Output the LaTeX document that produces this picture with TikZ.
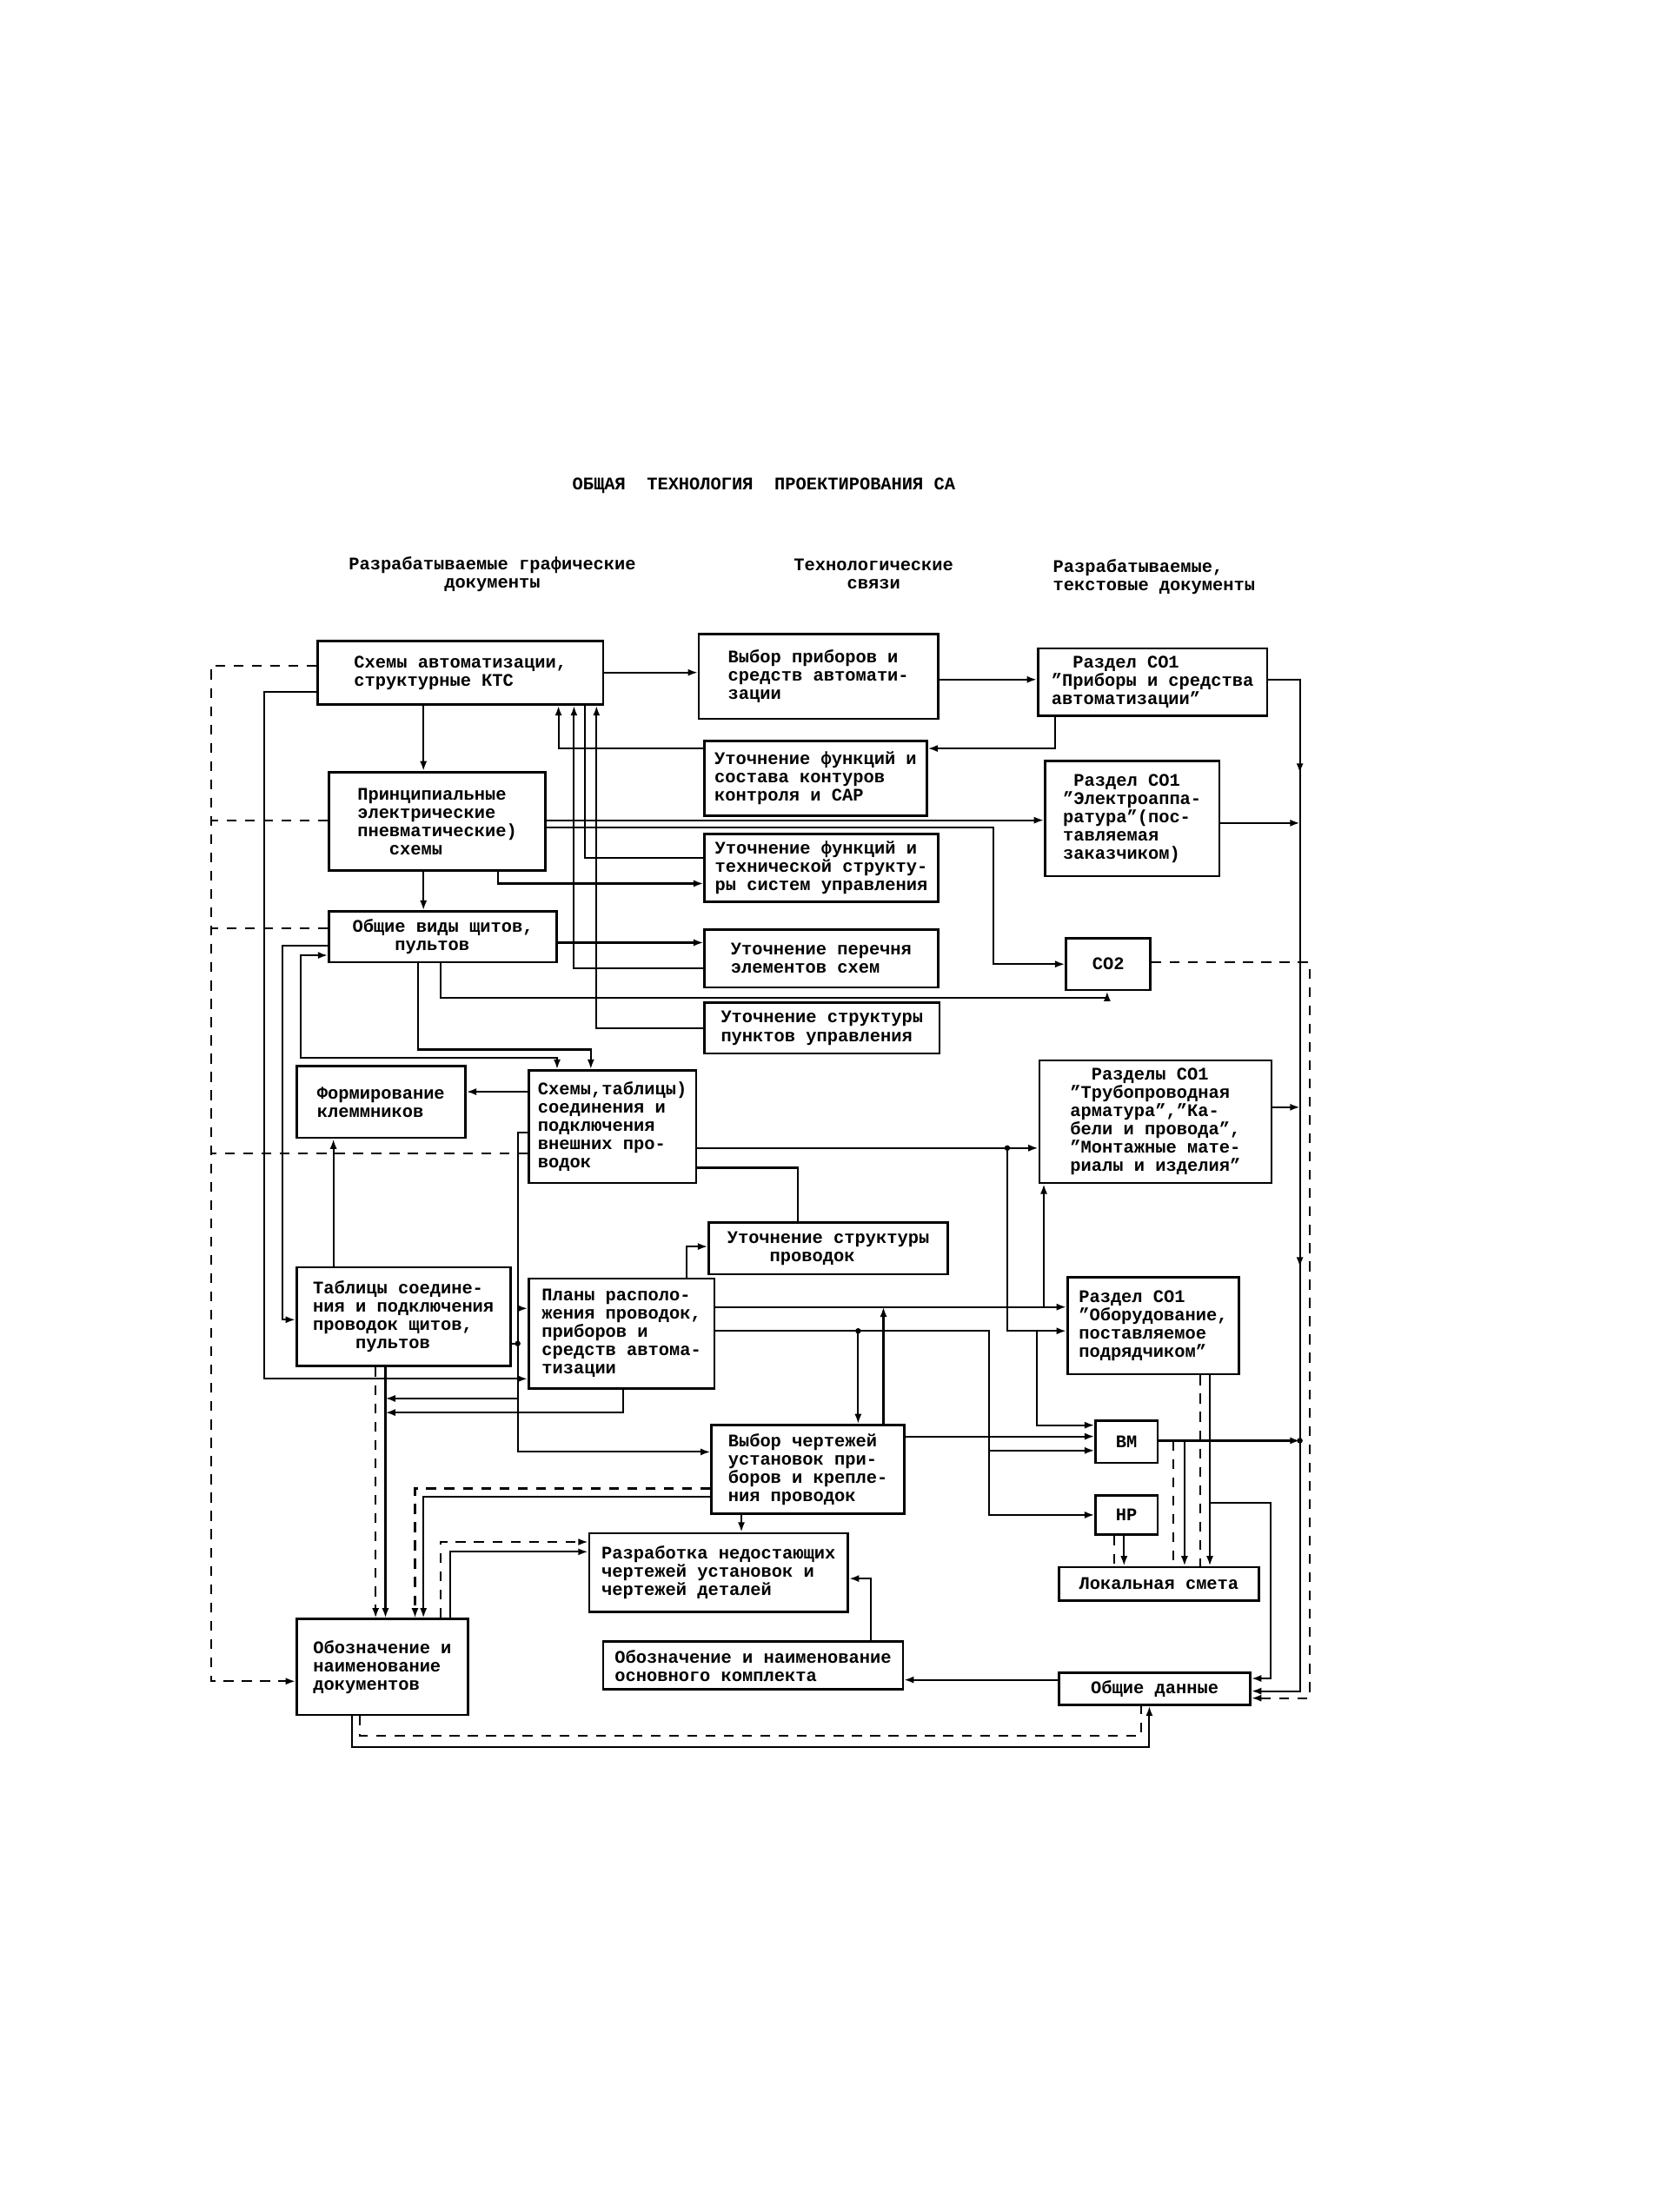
\documentclass[tikz,border=0pt]{standalone}
\usepackage{fontspec}
\setmainfont{Liberation Mono}
\usetikzlibrary{arrows.meta,decorations.markings}
\newcommand\fs{\fontsize{12.6}{13}\selectfont\bfseries}
\begin{document}
\begin{tikzpicture}[x=1pt,y=-1pt,
 box/.style={draw, line width=1.6pt, align=left, inner sep=3pt, font=\fs, anchor=north west},
 ln/.style={line width=1.3pt},
 arr/.style={ln, -{Latex[length=7pt,width=5pt]}},
 dsh/.style={ln, dash pattern=on 7pt off 6pt},
 darr/.style={dsh, -{Latex[length=7pt,width=5pt]}},
 jdot/.style={circle, fill, inner sep=0pt, minimum size=4pt},
 hd/.style={font=\fs, align=center}]
\fill[white] (0,0) rectangle (1194,1568);
\useasboundingbox (0,0) rectangle (1194,1568);

% title and headers
\node[hd] (title) at (543,345) {ОБЩАЯ\ \ ТЕХНОЛОГИЯ\ \ ПРОЕКТИРОВАНИЯ СА};
\node[hd] (h1) at (350,408) {Разрабатываемые графические\\документы};
\node[hd] (h2) at (621,408) {Технологические\\связи};
\node[hd, align=left, anchor=west] (h3) at (745,410) {Разрабатываемые,\\текстовые документы};

% boxes
\node[box, minimum width=203pt, minimum height=45pt] (A) at (225,455) {Схемы автоматизации,\\структурные КТС};
\node[box, minimum width=170pt, minimum height=60pt] (B) at (496,450) {Выбор приборов и\\средств автомати-\\зации};
\node[box, minimum width=163pt, minimum height=48pt] (C) at (737,460) {\ \ Раздел СО1\\"Приборы и средства\\автоматизации"};
\node[box, minimum width=158pt, minimum height=53pt] (D) at (500,526) {Уточнение функций и\\состава контуров\\контроля и САР};
\node[box, minimum width=154pt, minimum height=70pt] (E) at (233,548) {Принципиальные\\электрические\\пневматические)\\\ \ \ схемы};
\node[box, minimum width=124pt, minimum height=82pt] (F) at (742,540) {\ Раздел СО1\\"Электроаппа-\\ратура"(пос-\\тавляемая\\заказчиком)};
\node[box, minimum width=166pt, minimum height=48pt] (G) at (500,592) {Уточнение функций и\\технической структу-\\ры систем управления};
\node[box, minimum width=162pt, minimum height=36pt] (H) at (233,647) {Общие виды щитов,\\\ \ \ \ пультов};
\node[box, minimum width=166pt, minimum height=41pt] (I) at (500,660) {Уточнение перечня\\элементов схем};
\node[box, minimum width=60pt, minimum height=37pt] (J) at (757,666) {СО2};
\node[box, minimum width=167pt, minimum height=36pt] (K) at (500,712) {Уточнение структуры\\пунктов управления};
\node[box, minimum width=120pt, minimum height=51pt] (L) at (210,757) {Формирование\\клеммников};
\node[box, minimum width=119pt, minimum height=80pt] (M) at (375,760) {Схемы,таблицы)\\соединения и\\подключения\\внешних про-\\водок};
\node[box, minimum width=165pt, minimum height=87pt] (N) at (738,753) {\ \ Разделы СО1\\"Трубопроводная\\арматура","Ка-\\бели и провода",\\"Монтажные мате-\\риалы и изделия"};
\node[box, minimum width=170pt, minimum height=37pt] (O) at (503,868) {Уточнение структуры\\\ \ \ \ проводок};
\node[box, minimum width=152pt, minimum height=70pt] (P) at (210,900) {Таблицы соедине-\\ния и подключения\\проводок щитов,\\\ \ \ \ пультов};
\node[box, minimum width=132pt, minimum height=78pt] (Q) at (375,908) {Планы располо-\\жения проводок,\\приборов и\\средств автома-\\тизации};
\node[box, minimum width=122pt, minimum height=69pt] (R) at (758,907) {Раздел СО1\\"Оборудование,\\поставляемое\\подрядчиком"};
\node[box, minimum width=137pt, minimum height=63pt] (S) at (505,1012) {Выбор чертежей\\установок при-\\боров и крепле-\\ния проводок};
\node[box, minimum width=44pt, minimum height=30pt, align=center] (T) at (778,1009) {ВМ};
\node[box, minimum width=44pt, minimum height=28pt, align=center] (U) at (778,1062) {НР};
\node[box, minimum width=184pt, minimum height=56pt] (V) at (418,1089) {Разработка недостающих\\чертежей установок и\\чертежей деталей};
\node[box, minimum width=142pt, minimum height=24pt, inner sep=1pt] (W) at (752,1113) {Локальная смета};
\node[box, minimum width=122pt, minimum height=68pt] (X) at (210,1150) {Обозначение и\\наименование\\документов};
\node[box, minimum width=213pt, minimum height=34pt, inner sep=2pt] (Y) at (428,1166) {Обозначение и наименование\\основного комплекта};
\node[box, minimum width=136pt, minimum height=23pt, inner sep=1pt] (Z) at (752,1188) {Общие данные};

% named bend / junction coordinates
\coordinate (busF) at (924,585);
\coordinate (busN) at (924,787);
\coordinate (busT) at (924,1024);
\coordinate (m1) at (368,930);
\coordinate (m2) at (368,955);
\coordinate (m3) at (368,994);
\coordinate (xa) at (274,994);
\coordinate (xb) at (274,1004);
\coordinate (q1) at (742,929);
\coordinate (r1) at (716,816);
\coordinate (r2) at (737,946);
\coordinate (s1) at (610,946);
\coordinate (s2) at (628,929);
\coordinate (t1) at (703,1031);
\coordinate (w1) at (842,1024);
\coordinate (w2) at (834,1024);
\coordinate (rz) at (860,1068);
\coordinate (d1) at (150,583);
\coordinate (d2) at (150,660);
\coordinate (d3) at (150,820);

% ---- top connectors
\draw[arr] (A.east |- 0,478) -- (B.west |- 0,478);
\draw[arr] (B.east |- 0,483) -- (C.west |- 0,483);
\draw[arr] (C.south -| 750,0) |- (D.east |- 0,532);
\draw[arr] (D.west |- 0,532) -| (A.south -| 397,0);
\draw[arr] (A.south -| 301,0) -- (E.north -| 301,0);
\draw[arr] (E.south -| 301,0) -- (H.north -| 301,0);
\draw[arr, postaction={decorate}, decoration={markings,
   mark=at position 89pt with {\arrow{Latex[length=7pt,width=5pt]}},
   mark=at position 440pt with {\arrow{Latex[length=7pt,width=5pt]}}}]
   (C.east |- 0,483) -| (924,1202) -- (Z.east |- 0,1202);
\draw[arr] (F.east |- 0,585) -- (busF);
\draw[arr] (N.east |- 0,787) -- (busN);
\draw[arr] (T.east |- 0,1024) -- (busT);
\node[jdot] at (busT) {};
\draw[arr] (E.east |- 0,583) -- (F.west |- 0,583);
\draw[arr] (E.east |- 0,588) -| (J.west -| 706,0) -- (J.west);
\draw[arr] (E.south -| 354,0) |- (G.west |- 0,628);
\draw[ln] (A.south -| 416,0) |- (G.west |- 0,610);
\draw[arr] (I.west |- 0,688) -| (A.south -| 408,0);
\draw[arr] (K.west |- 0,731) -| (A.south -| 424,0);
\draw[arr] (H.east |- 0,670) -- (I.west |- 0,670);
\draw[arr] (H.south -| 313,0) |- (787,709) -- (J.south -| 787,0);
\draw[arr] (H.south -| 297,0) |- (420,746) -- (M.north -| 420,0);
\draw[ln, {Latex[length=7pt,width=5pt]}-{Latex[length=7pt,width=5pt]}] (M.north -| 396,0) |- (214,752) |- (H.west |- 0,679);
\draw[arr] (H.west |- 0,672) -| (201,938) -- (P.west |- 0,938);
\draw[arr] (A.west |- 0,492) -| (188,980) -- (Q.west |- 0,980);

% ---- middle left
\draw[arr] (M.west |- 0,776) -- (L.east |- 0,776);
\draw[arr] (P.north -| 237,0) -- (L.south -| 237,0);
\draw[arr] (M.west |- 0,805) -| (368,1032) -- (S.west |- 0,1032);
\draw[arr] (m1) -- (Q.west |- 0,930);
\draw[ln] (P.east |- 0,955) -- (m2);
\node[jdot] at (m2) {};
\draw[arr] (m3) -- (xa);
\draw[arr] (Q.south -| 443,0) |- (xb);
\draw[arr] (P.south -| 274,0) -- (X.north -| 274,0);
\draw[darr] (P.south -| 267,0) -- (X.north -| 267,0);
\draw[arr] (S.west |- 0,1064) -| (X.north -| 301,0);
\draw[darr] (S.west |- 0,1058) -| (X.north -| 295,0);
\draw[arr] (X.north -| 320,0) |- (V.west |- 0,1103);
\draw[darr] (X.north -| 313,0) |- (V.west |- 0,1096);
\draw[arr] (S.south -| 527,0) -- (V.north -| 527,0);
\draw[arr] (Y.north -| 619,0) |- (V.east |- 0,1122);
\draw[arr] (Z.west |- 0,1194) -- (Y.east |- 0,1194);
\draw[arr] (X.south -| 250,0) |- (817,1242) -- (Z.south -| 817,0);
\draw[dsh] (X.south -| 256,0) |- (811,1234) -- (Z.south -| 811,0);

% ---- middle right
\draw[arr] (M.east |- 0,816) -- (N.west |- 0,816);
\node[jdot] at (r1) {};
\draw[ln] (M.east |- 0,830) -| (O.north -| 567,0);
\draw[arr] (Q.north -| 488,0) |- (O.west |- 0,886);
\draw[arr] (Q.east |- 0,929) -- (R.west |- 0,929);
\draw[arr] (q1) -- (N.south -| 742,0);
\draw[arr] (r1) |- (R.west |- 0,946);
\draw[arr] (r2) |- (T.west |- 0,1013);
\draw[arr] (Q.east |- 0,946) -| (U.west -| 703,0) -- (U.west);
\draw[arr] (t1) -- (T.west |- 0,1031);
\draw[arr] (s1) -- (S.north -| 610,0);
\node[jdot] at (s1) {};
\draw[arr] (S.north -| 628,0) -- (s2);
\draw[arr] (S.east |- 0,1021) -- (T.west |- 0,1021);
\draw[arr] (w1) -- (W.north -| 842,0);
\draw[dsh] (w2) -- (W.north -| 834,0);
\draw[arr] (R.south -| 860,0) -- (W.north -| 860,0);
\draw[dsh] (R.south -| 853,0) -- (W.north -| 853,0);
\draw[arr] (rz) -| (903,1193) -- (Z.east |- 0,1193);
\draw[arr] (U.south -| 799,0) -- (W.north -| 799,0);
\draw[dsh] (U.south -| 792,0) -- (W.north -| 792,0);
\draw[darr] (J.east |- 0,684) -| (931,1207) -- (Z.east |- 0,1207);

% ---- dashed feedback on the left
\draw[darr] (A.west |- 0,473) -| (150,1195) -- (X.west |- 0,1195);
\draw[dsh] (E.west |- 0,583) -- (d1);
\draw[dsh] (H.west |- 0,660) -- (d2);
\draw[dsh] (M.west |- 0,820) -- (d3);
\end{tikzpicture}
\end{document}
